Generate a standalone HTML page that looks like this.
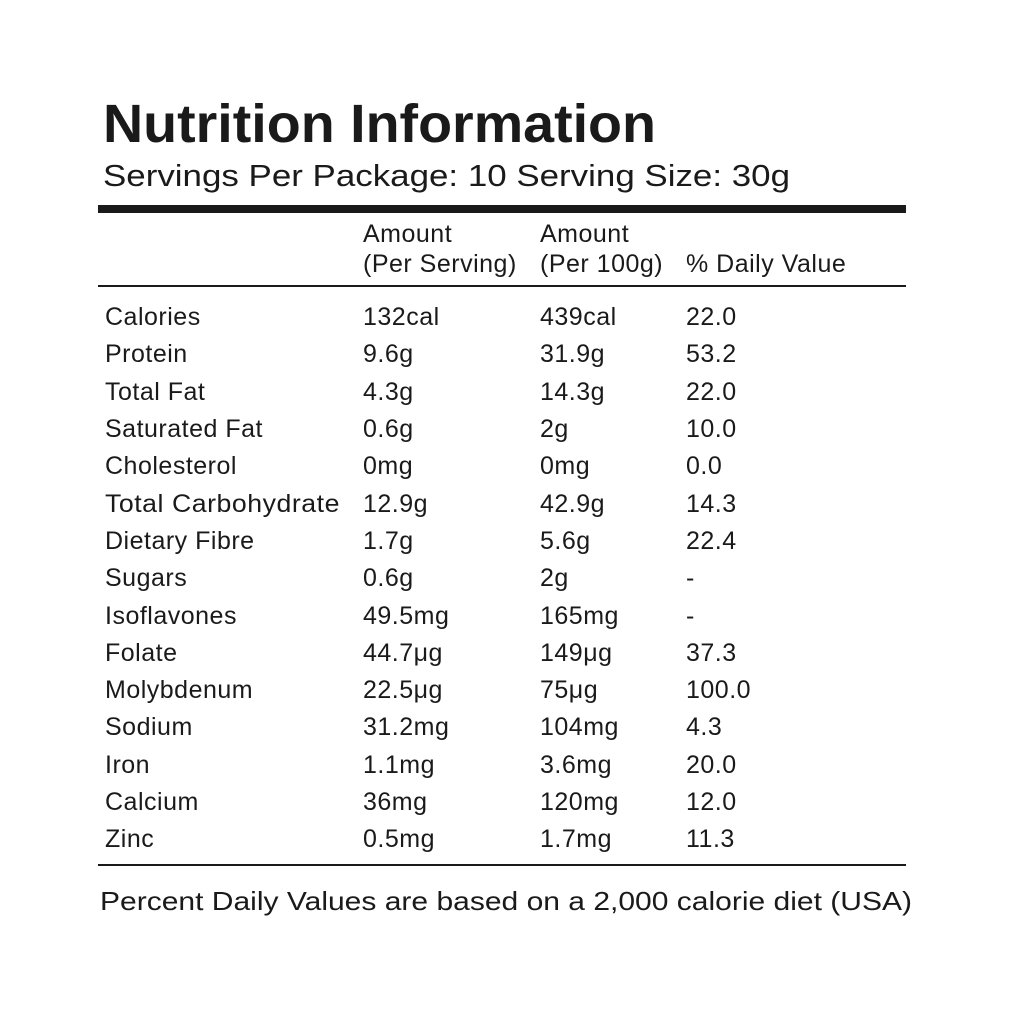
<!DOCTYPE html>
<html><head><meta charset="utf-8"><style>html,body{margin:0;padding:0;background:#fff}</style></head>
<body>
<svg width="1024" height="1012" xmlns="http://www.w3.org/2000/svg" font-family="Liberation Sans, sans-serif" fill="#1a1a1a">
<rect width="1024" height="1012" fill="#fff"/>
<text x="103" y="142" font-size="54" font-weight="bold" textLength="553" lengthAdjust="spacingAndGlyphs">Nutrition Information</text>
<text x="103" y="186" font-size="31" textLength="687" lengthAdjust="spacingAndGlyphs">Servings Per Package: 10 Serving Size: 30g</text>
<rect x="98" y="205" width="808" height="8" fill="#1a1a1a"/>
<g font-size="25" letter-spacing="0.5">
<text x="363" y="242">Amount</text>
<text x="363" y="272">(Per Serving)</text>
<text x="540" y="242">Amount</text>
<text x="540" y="272">(Per 100g)</text>
<text x="686" y="272">% Daily Value</text>
</g>
<rect x="98" y="285" width="808" height="2" fill="#1a1a1a"/>
<g font-size="25" letter-spacing="0.5">
<text x="105" y="325">Calories</text><text x="363" y="325">132cal</text><text x="540" y="325">439cal</text><text x="686" y="325">22.0</text>
<text x="105" y="362">Protein</text><text x="363" y="362">9.6g</text><text x="540" y="362">31.9g</text><text x="686" y="362">53.2</text>
<text x="105" y="400">Total Fat</text><text x="363" y="400">4.3g</text><text x="540" y="400">14.3g</text><text x="686" y="400">22.0</text>
<text x="105" y="437">Saturated Fat</text><text x="363" y="437">0.6g</text><text x="540" y="437">2g</text><text x="686" y="437">10.0</text>
<text x="105" y="474">Cholesterol</text><text x="363" y="474">0mg</text><text x="540" y="474">0mg</text><text x="686" y="474">0.0</text>
<text x="105" y="512" textLength="235" lengthAdjust="spacingAndGlyphs">Total Carbohydrate</text><text x="363" y="512">12.9g</text><text x="540" y="512">42.9g</text><text x="686" y="512">14.3</text>
<text x="105" y="549">Dietary Fibre</text><text x="363" y="549">1.7g</text><text x="540" y="549">5.6g</text><text x="686" y="549">22.4</text>
<text x="105" y="586">Sugars</text><text x="363" y="586">0.6g</text><text x="540" y="586">2g</text><text x="686" y="586">-</text>
<text x="105" y="624">Isoflavones</text><text x="363" y="624">49.5mg</text><text x="540" y="624">165mg</text><text x="686" y="624">-</text>
<text x="105" y="661">Folate</text><text x="363" y="661">44.7μg</text><text x="540" y="661">149μg</text><text x="686" y="661">37.3</text>
<text x="105" y="698">Molybdenum</text><text x="363" y="698">22.5μg</text><text x="540" y="698">75μg</text><text x="686" y="698">100.0</text>
<text x="105" y="735">Sodium</text><text x="363" y="735">31.2mg</text><text x="540" y="735">104mg</text><text x="686" y="735">4.3</text>
<text x="105" y="773">Iron</text><text x="363" y="773">1.1mg</text><text x="540" y="773">3.6mg</text><text x="686" y="773">20.0</text>
<text x="105" y="810">Calcium</text><text x="363" y="810">36mg</text><text x="540" y="810">120mg</text><text x="686" y="810">12.0</text>
<text x="105" y="847">Zinc</text><text x="363" y="847">0.5mg</text><text x="540" y="847">1.7mg</text><text x="686" y="847">11.3</text>
</g>
<rect x="98" y="864" width="808" height="2" fill="#1a1a1a"/>
<text x="100" y="910" font-size="26" textLength="812" lengthAdjust="spacingAndGlyphs">Percent Daily Values are based on a 2,000 calorie diet (USA)</text>
</svg>
</body></html>
